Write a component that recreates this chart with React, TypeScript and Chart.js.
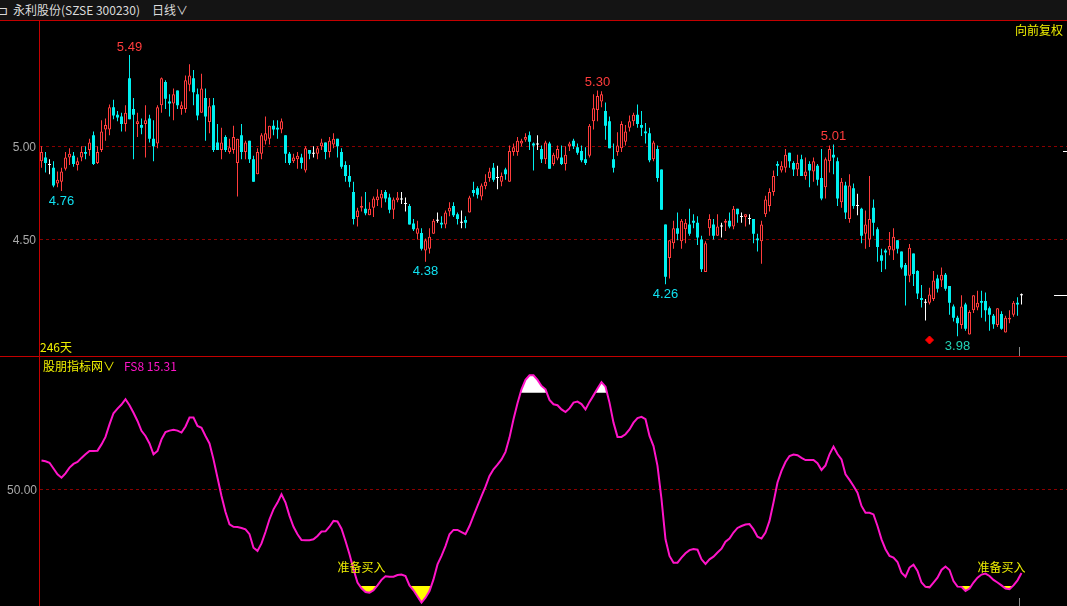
import React, { useEffect, useRef } from "react";
import { Chart, registerables } from "chart.js";

Chart.register(...registerables);

// ---------- data ----------
const openP = [
  4.92, 4.94, 4.90, 4.885, 4.80, 4.81, 4.88, 4.94, 4.95, 4.90,
  4.94, 4.97, 4.98, 5.06, 4.91, 4.98, 5.09, 5.09, 5.21, 5.17,
  5.16, 5.12, 5.365, 5.20, 5.12, 5.115, 5.12, 5.15, 5.04, 5.015,
  5.22, 5.345, 5.24, 5.23, 5.30, 5.20, 5.20, 5.33, 5.365, 5.28,
  5.18, 5.26, 5.13, 5.22, 5.02, 4.98, 5.05, 4.97, 4.98, 4.91,
  5.06, 4.97, 5.03, 4.93, 4.85, 4.96, 5.03, 5.04, 5.11, 5.10,
  5.09, 5.06, 4.96, 4.92, 4.93, 4.94, 4.87, 4.98, 4.96, 4.96,
  5.00, 5.02, 4.97, 5.01, 5.04, 4.97, 4.90, 4.84, 4.755, 4.62,
  4.67, 4.665, 4.63, 4.67, 4.71, 4.72, 4.755, 4.725, 4.66, 4.71,
  4.715, 4.69, 4.68, 4.585, 4.53, 4.535, 4.44, 4.45, 4.53, 4.60,
  4.59, 4.58, 4.65, 4.68, 4.635, 4.59, 4.605, 4.645, 4.765, 4.775,
  4.73, 4.785, 4.83, 4.885, 4.83, 4.81, 4.875, 4.81, 4.97, 4.97,
  5.015, 5.035, 5.06, 5.015, 5.01, 4.985, 4.93, 5.015, 4.905, 4.935,
  4.94, 4.905, 5.00, 5.03, 4.995, 4.975, 4.93, 4.95, 5.135, 5.195,
  5.24, 5.19, 5.135, 4.93, 4.97, 4.99, 5.025, 5.10, 5.135, 5.17,
  5.115, 5.08, 5.07, 4.93, 4.985, 4.875, 4.58, 4.40, 4.48, 4.56,
  4.49, 4.555, 4.58, 4.60, 4.59, 4.50, 4.325, 4.56, 4.58, 4.52,
  4.57, 4.59, 4.60, 4.57, 4.665, 4.62, 4.62, 4.61, 4.61, 4.505,
  4.49, 4.635, 4.68, 4.755, 4.905, 4.87, 4.885, 4.965, 4.91, 4.875,
  4.93, 4.84, 4.905, 4.865, 4.895, 4.83, 4.78, 4.92, 4.955, 4.92,
  4.70, 4.79, 4.61, 4.775, 4.68, 4.665, 4.53, 4.50, 4.67, 4.555,
  4.415, 4.44, 4.445, 4.44, 4.495, 4.435, 4.363, 4.305, 4.425, 4.33,
  4.186, 4.16, 4.16, 4.18, 4.29, 4.28, 4.31, 4.25, 4.14, 4.08,
  4.04, 4.15, 3.99, 4.12, 4.135, 4.17, 4.17, 4.13, 4.09, 4.04,
  4.10, 4.00, 4.07, 4.095, 4.16, 4.20,
];

const highP = [
  5.00, 4.97, 4.93, 4.92, 4.865, 4.885, 4.97, 4.99, 4.97, 4.94,
  5.00, 5.00, 5.04, 5.08, 5.00, 5.14, 5.15, 5.225, 5.25, 5.19,
  5.18, 5.22, 5.49, 5.26, 5.18, 5.15, 5.22, 5.17, 5.14, 5.22,
  5.37, 5.355, 5.28, 5.31, 5.30, 5.24, 5.38, 5.44, 5.41, 5.31,
  5.39, 5.31, 5.26, 5.26, 5.12, 5.10, 5.06, 5.04, 5.11, 5.04,
  5.12, 5.03, 5.03, 4.95, 4.99, 5.07, 5.16, 5.11, 5.14, 5.14,
  5.15, 5.06, 4.97, 4.96, 4.97, 4.96, 5.00, 4.98, 5.00, 5.00,
  5.04, 5.02, 5.05, 5.07, 5.04, 4.99, 4.92, 4.90, 4.81, 4.67,
  4.73, 4.755, 4.70, 4.73, 4.77, 4.765, 4.765, 4.745, 4.725, 4.755,
  4.755, 4.725, 4.69, 4.61, 4.60, 4.56, 4.505, 4.56, 4.61, 4.645,
  4.625, 4.655, 4.70, 4.70, 4.645, 4.655, 4.625, 4.735, 4.81, 4.785,
  4.80, 4.85, 4.885, 4.91, 4.895, 4.86, 4.885, 5.005, 5.015, 5.05,
  5.04, 5.07, 5.08, 5.02, 5.06, 5.005, 5.03, 5.025, 4.965, 5.005,
  5.005, 5.00, 5.025, 5.04, 5.015, 5.005, 4.995, 5.12, 5.28, 5.30,
  5.295, 5.235, 5.16, 5.015, 5.075, 5.135, 5.115, 5.165, 5.18, 5.225,
  5.19, 5.125, 5.10, 5.03, 5.005, 4.875, 4.58, 4.495, 4.60, 4.645,
  4.61, 4.61, 4.665, 4.635, 4.625, 4.52, 4.49, 4.635, 4.61, 4.635,
  4.59, 4.61, 4.645, 4.68, 4.665, 4.645, 4.635, 4.635, 4.61, 4.53,
  4.60, 4.735, 4.775, 4.87, 4.92, 4.92, 4.985, 4.965, 4.92, 4.955,
  4.955, 4.94, 4.92, 4.94, 4.905, 4.985, 4.94, 5.005, 5.01, 4.94,
  4.83, 4.81, 4.85, 4.80, 4.745, 4.67, 4.655, 4.84, 4.715, 4.565,
  4.45, 4.45, 4.54, 4.56, 4.495, 4.435, 4.373, 4.475, 4.425, 4.335,
  4.255, 4.18, 4.24, 4.33, 4.31, 4.35, 4.32, 4.25, 4.15, 4.09,
  4.20, 4.16, 4.12, 4.20, 4.225, 4.225, 4.215, 4.14, 4.10, 4.13,
  4.115, 4.09, 4.12, 4.17, 4.19, 4.21,
];

const lowP = [
  4.885, 4.86, 4.85, 4.78, 4.78, 4.76, 4.87, 4.90, 4.89, 4.87,
  4.92, 4.93, 4.95, 4.90, 4.905, 4.97, 5.03, 5.06, 5.145, 5.135,
  5.08, 5.08, 5.145, 4.93, 5.05, 5.065, 4.94, 5.02, 4.92, 4.99,
  5.18, 5.20, 5.16, 5.14, 5.20, 5.17, 5.18, 5.295, 5.22, 5.14,
  5.18, 5.03, 5.07, 4.97, 4.98, 4.93, 4.97, 4.96, 4.96, 4.73,
  4.93, 4.93, 4.91, 4.81, 4.85, 4.93, 5.01, 5.01, 5.06, 5.04,
  5.07, 4.91, 4.90, 4.91, 4.88, 4.88, 4.86, 4.93, 4.94, 4.93,
  4.98, 4.93, 4.94, 4.99, 4.94, 4.88, 4.81, 4.78, 4.58, 4.57,
  4.65, 4.63, 4.63, 4.62, 4.68, 4.67, 4.70, 4.64, 4.61, 4.70,
  4.69, 4.65, 4.58, 4.545, 4.50, 4.44, 4.38, 4.425, 4.53, 4.59,
  4.56, 4.56, 4.625, 4.62, 4.58, 4.56, 4.56, 4.645, 4.73, 4.72,
  4.71, 4.77, 4.81, 4.81, 4.77, 4.785, 4.82, 4.81, 4.95, 4.95,
  5.00, 5.025, 4.98, 4.87, 4.98, 4.91, 4.905, 4.88, 4.895, 4.925,
  4.90, 4.87, 4.975, 4.985, 4.955, 4.915, 4.90, 4.94, 5.09, 5.135,
  5.21, 5.035, 4.99, 4.86, 4.95, 4.97, 5.005, 5.08, 5.11, 5.10,
  5.055, 5.015, 4.915, 4.92, 4.81, 4.66, 4.26, 4.29, 4.45, 4.495,
  4.45, 4.48, 4.52, 4.56, 4.47, 4.325, 4.325, 4.52, 4.50, 4.52,
  4.51, 4.545, 4.56, 4.555, 4.59, 4.59, 4.57, 4.58, 4.48, 4.435,
  4.37, 4.62, 4.65, 4.735, 4.84, 4.86, 4.86, 4.885, 4.84, 4.84,
  4.84, 4.82, 4.78, 4.81, 4.79, 4.71, 4.72, 4.86, 4.85, 4.68,
  4.67, 4.61, 4.59, 4.665, 4.63, 4.48, 4.45, 4.46, 4.52, 4.38,
  4.325, 4.34, 4.415, 4.39, 4.425, 4.34, 4.145, 4.27, 4.25, 4.18,
  4.135, 4.065, 4.15, 4.17, 4.215, 4.245, 4.225, 4.095, 4.06, 3.98,
  4.02, 4.01, 3.99, 4.105, 4.12, 4.08, 4.06, 4.01, 4.02, 4.03,
  4.015, 4.00, 4.05, 4.085, 4.09, 4.15,
];

const closeP = [
  4.97, 4.91, 4.90, 4.79, 4.82, 4.865, 4.94, 4.96, 4.905, 4.92,
  4.97, 4.96, 5.02, 4.905, 4.97, 5.08, 5.115, 5.21, 5.165, 5.155,
  5.12, 5.18, 5.145, 5.17, 5.135, 5.10, 5.14, 5.04, 5.00, 5.21,
  5.365, 5.255, 5.23, 5.28, 5.22, 5.22, 5.355, 5.38, 5.29, 5.165,
  5.31, 5.16, 5.215, 4.98, 4.98, 5.02, 4.98, 4.995, 5.05, 5.04,
  4.97, 5.02, 4.93, 4.81, 4.97, 5.06, 5.07, 5.11, 5.09, 5.09,
  5.135, 4.96, 4.91, 4.94, 4.95, 4.91, 4.99, 4.96, 4.96, 4.99,
  5.02, 4.97, 5.03, 5.04, 5.00, 4.89, 4.84, 4.81, 4.61, 4.655,
  4.68, 4.64, 4.665, 4.72, 4.73, 4.745, 4.72, 4.66, 4.715, 4.725,
  4.715, 4.69, 4.58, 4.555, 4.56, 4.45, 4.495, 4.515, 4.60, 4.60,
  4.58, 4.645, 4.67, 4.63, 4.61, 4.59, 4.59, 4.725, 4.75, 4.74,
  4.79, 4.81, 4.865, 4.82, 4.83, 4.84, 4.85, 4.975, 4.995, 5.03,
  5.03, 5.05, 5.025, 5.005, 5.01, 4.93, 5.02, 4.88, 4.955, 4.985,
  4.905, 4.955, 5.015, 5.00, 4.965, 4.925, 4.91, 5.11, 5.205, 5.27,
  5.28, 5.11, 4.99, 4.885, 5.005, 5.12, 5.08, 5.135, 5.17, 5.12,
  5.10, 5.07, 4.925, 5.02, 4.83, 4.66, 4.30, 4.495, 4.56, 4.53,
  4.60, 4.59, 4.53, 4.59, 4.51, 4.34, 4.48, 4.61, 4.52, 4.57,
  4.57, 4.60, 4.57, 4.665, 4.635, 4.62, 4.635, 4.61, 4.53, 4.495,
  4.58, 4.715, 4.755, 4.84, 4.895, 4.895, 4.955, 4.92, 4.875, 4.91,
  4.84, 4.865, 4.87, 4.92, 4.82, 4.72, 4.93, 4.985, 4.94, 4.72,
  4.81, 4.645, 4.79, 4.68, 4.68, 4.52, 4.58, 4.61, 4.59, 4.46,
  4.385, 4.43, 4.465, 4.515, 4.45, 4.35, 4.305, 4.455, 4.315, 4.21,
  4.175, 4.16, 4.205, 4.28, 4.235, 4.31, 4.235, 4.16, 4.08, 4.05,
  4.14, 4.02, 4.11, 4.20, 4.16, 4.16, 4.12, 4.095, 4.045, 4.13,
  4.02, 4.08, 4.08, 4.16, 4.15, 4.20,
];

// FS8 indicator (股朋指标网)
const fs8 = [
  61.9, 61.6, 61.0, 58.6, 56.2, 54.8, 56.6, 59.0, 60.5, 61.3,
  63.0, 64.5, 65.9, 65.9, 66.0, 68.6, 71.7, 76.9, 81.5, 83.4,
  85.1, 87.3, 84.8, 81.7, 78.3, 74.2, 72.1, 69.0, 64.5, 65.9,
  70.7, 73.7, 74.3, 74.6, 74.3, 73.5, 76.0, 79.7, 79.7, 76.2,
  75.5, 72.1, 69.0, 62.4, 54.8, 47.2, 40.6, 35.5, 34.5, 34.4,
  34.0, 33.4, 31.4, 25.8, 24.5, 27.6, 32.3, 37.6, 41.7, 44.5,
  47.9, 44.5, 39.0, 34.5, 31.4, 29.0, 28.9, 28.9, 29.3, 30.7,
  32.5, 32.6, 34.5, 36.9, 36.7, 33.7, 28.6, 23.1, 16.9, 11.4,
  9.0, 7.5, 7.2, 8.2, 10.2, 12.5, 14.0, 13.8, 13.8, 14.5,
  14.7, 14.1, 10.2, 8.2, 5.6, 3.1, 5.1, 7.9, 12.7, 18.9,
  22.4, 26.5, 31.4, 33.2, 33.2, 32.3, 31.4, 34.8, 39.0, 43.1,
  47.2, 51.1, 55.5, 58.3, 60.2, 62.4, 65.5, 71.4, 79.0, 85.6,
  91.4, 95.3, 97.2, 97.2, 95.3, 92.8, 91.4, 87.0, 85.2, 84.8,
  83.1, 82.0, 83.5, 85.9, 86.3, 85.3, 83.1, 86.2, 88.9, 91.7,
  94.4, 92.5, 85.9, 77.6, 71.7, 71.7, 72.8, 74.8, 77.6, 79.5,
  80.0, 79.0, 72.1, 67.9, 59.7, 45.9, 29.3, 22.4, 19.6, 19.6,
  21.7, 23.5, 24.8, 25.3, 25.0, 21.0, 19.1, 21.0, 22.1, 23.8,
  25.4, 28.3, 29.6, 32.1, 34.0, 34.8, 35.4, 35.6, 33.4, 30.4,
  29.6, 32.1, 36.9, 44.5, 52.8, 57.6, 61.3, 63.8, 64.4, 64.1,
  63.0, 62.1, 62.1, 62.1, 60.8, 58.0, 59.9, 64.5, 67.7, 64.6,
  62.4, 56.2, 53.9, 51.4, 48.6, 43.1, 40.3, 40.3, 39.6, 34.8,
  29.3, 25.2, 22.4, 21.7, 19.9, 15.5, 13.8, 17.6, 18.8, 16.2,
  11.4, 9.6, 9.4, 11.4, 13.4, 16.6, 18.0, 16.6, 12.0, 9.7,
  9.6, 7.9, 8.9, 11.4, 13.4, 14.7, 15.1, 14.1, 12.5, 11.4,
  10.2, 8.9, 8.6, 10.2, 12.3, 15.31,
];

const priceTicks = [5.0, 4.5];
const fsTicks = [50];
const fsLow = 10;
const fsHigh = 90;
const highMarkIdx = [22, 139, 198];
const lowMarkIdx = [5, 96, 156, 229];
const diamondIdx = [222];
const diamondPrice = [3.96];
const buySignalIdx = [80, 240];
const buySignalLevel = [17.6, 17.6];
const buySignalText = ["准备买入", "准备买入"];
const rightMarkPrices = [4.2, 4.975];
const dayCount = "246天";

// ---------- styles ----------
const RED = "#ff3c3c";
const CYAN = "#00f0f0";
const WHITE = "#ffffff";
const GRID = "#8a0000";
const BORDER = "#c40000";
const AXIS_TXT = "#a8a8a8";
const MAGENTA = "#ff14c8";
const YELLOW = "#f0f000";
const CJK = '"Noto Sans CJK SC", "Noto Sans", sans-serif';
const NUMF = '"Liberation Sans", Arial, sans-serif';

const N = openP.length;
const labels = openP.map((_, i) => String(i + 1));
const dir = openP.map((o, i) => (closeP[i] > o ? 1 : closeP[i] < o ? -1 : 0));
const bodyFill = dir.map((d) => (d === 1 ? "#000000" : d === -1 ? CYAN : WHITE));
const candleCol = dir.map((d) => (d === 1 ? RED : d === -1 ? CYAN : WHITE));
const bodyBorderW = dir.map((d) => (d === 1 ? 1 : 0));

const topPlugin = {
  id: "topDecor",
  beforeDatasetsDraw(chart: any) {
    const { ctx } = chart;
    const y = chart.scales.y;
    ctx.save();
    ctx.strokeStyle = GRID;
    ctx.lineWidth = 1;
    ctx.setLineDash([3, 3]);
    priceTicks.forEach((v) => {
      const py = Math.round(y.getPixelForValue(v)) + 0.5;
      ctx.beginPath();
      ctx.moveTo(40, py);
      ctx.lineTo(chart.width, py);
      ctx.stroke();
    });
    ctx.setLineDash([]);
    ctx.fillStyle = AXIS_TXT;
    ctx.font = "12px " + NUMF;
    ctx.textAlign = "right";
    ctx.textBaseline = "middle";
    priceTicks.forEach((v) => ctx.fillText(v.toFixed(2), 36, y.getPixelForValue(v) + 1));
    ctx.restore();
  },
  afterDatasetsDraw(chart: any) {
    const { ctx } = chart;
    const x = chart.scales.x;
    const y = chart.scales.y;
    ctx.save();
    ctx.font = "13px " + NUMF;
    ctx.textAlign = "center";
    ctx.textBaseline = "middle";
    highMarkIdx.forEach((i) => {
      ctx.fillStyle = RED;
      ctx.fillText(highP[i].toFixed(2), x.getPixelForValue(i), y.getPixelForValue(highP[i]) - 8);
    });
    lowMarkIdx.forEach((i, k) => {
      ctx.fillStyle = k === lowMarkIdx.length - 1 ? "#22d2b4" : "#10e0f0";
      ctx.fillText(lowP[i].toFixed(2), x.getPixelForValue(i), y.getPixelForValue(lowP[i]) + 10);
    });
    ctx.strokeStyle = WHITE;
    ctx.lineWidth = 1;
    rightMarkPrices.forEach((p, k) => {
      const py = Math.round(y.getPixelForValue(p)) + 0.5;
      ctx.beginPath();
      ctx.moveTo(k === 0 ? 1054 : 1063, py);
      ctx.lineTo(chart.width, py);
      ctx.stroke();
    });
    const tx = Math.round(x.getPixelForValue(N - 1)) - 2.5;
    ctx.strokeStyle = "#8a8a8a";
    ctx.beginPath();
    ctx.moveTo(tx, chart.height - 9);
    ctx.lineTo(tx, chart.height);
    ctx.stroke();
    ctx.restore();
  },
};

function drawBand(chart: any, level: number, above: boolean, color: string) {
  const { ctx, chartArea: a } = chart;
  const x = chart.scales.x;
  const y = chart.scales.y;
  const ly = y.getPixelForValue(level);
  ctx.save();
  ctx.beginPath();
  if (above) ctx.rect(a.left, a.top, a.right - a.left, ly - a.top);
  else ctx.rect(a.left, ly, a.right - a.left, a.bottom - ly);
  ctx.clip();
  ctx.beginPath();
  fs8.forEach((v, i) => {
    const px = x.getPixelForValue(i);
    const py = y.getPixelForValue(v);
    if (i === 0) ctx.moveTo(px, py);
    else ctx.lineTo(px, py);
  });
  const closeY = above ? a.bottom : a.top;
  ctx.lineTo(x.getPixelForValue(N - 1), closeY);
  ctx.lineTo(x.getPixelForValue(0), closeY);
  ctx.closePath();
  ctx.fillStyle = color;
  ctx.fill();
  ctx.restore();
}

const bottomPlugin = {
  id: "bottomDecor",
  beforeDatasetsDraw(chart: any) {
    const { ctx } = chart;
    const y = chart.scales.y;
    ctx.save();
    ctx.strokeStyle = GRID;
    ctx.lineWidth = 1;
    ctx.setLineDash([3, 3]);
    fsTicks.forEach((v) => {
      const py = Math.round(y.getPixelForValue(v)) + 0.5;
      ctx.beginPath();
      ctx.moveTo(40, py);
      ctx.lineTo(chart.width, py);
      ctx.stroke();
    });
    ctx.setLineDash([]);
    ctx.fillStyle = AXIS_TXT;
    ctx.font = "12px " + NUMF;
    ctx.textAlign = "right";
    ctx.textBaseline = "middle";
    fsTicks.forEach((v) => ctx.fillText(v.toFixed(2), 37, y.getPixelForValue(v) + 1));
    ctx.restore();
    drawBand(chart, fsHigh, true, "#ffffff");
    drawBand(chart, fsLow, false, "#ffff00");
  },
  afterDatasetsDraw(chart: any) {
    const { ctx } = chart;
    const x = chart.scales.x;
    const y = chart.scales.y;
    ctx.save();
    ctx.fillStyle = YELLOW;
    ctx.font = "12px " + CJK;
    ctx.textAlign = "center";
    ctx.textBaseline = "middle";
    buySignalIdx.forEach((i, k) => {
      ctx.fillText(buySignalText[k], x.getPixelForValue(i), y.getPixelForValue(buySignalLevel[k]));
    });
    const tx = Math.round(x.getPixelForValue(N - 1)) - 2.5;
    ctx.strokeStyle = "#8a8a8a";
    ctx.lineWidth = 1;
    ctx.beginPath();
    ctx.moveTo(tx, chart.height - 8);
    ctx.lineTo(tx, chart.height);
    ctx.stroke();
    ctx.restore();
  },
};

export default function App() {
  const topRef = useRef<HTMLCanvasElement | null>(null);
  const botRef = useRef<HTMLCanvasElement | null>(null);

  useEffect(() => {
    document.body.style.margin = "0";
    document.body.style.background = "#000";
    const layoutPad = { left: 39.5, right: 43.5, top: 0, bottom: 0 };

    const top = new Chart(topRef.current as HTMLCanvasElement, {
      type: "bar",
      data: {
        labels,
        datasets: [
          {
            type: "line",
            label: "signal",
            data: labels.map((_, i) => {
              const k = diamondIdx.indexOf(i);
              return k >= 0 ? diamondPrice[k] : null;
            }),
            showLine: false,
            pointStyle: "rectRot",
            pointRadius: 4,
            pointBorderWidth: 1,
            pointBackgroundColor: "#ff0000",
            pointBorderColor: "#ff0000",
            order: 0,
          } as any,
          {
            type: "bar",
            label: "body",
            data: openP.map((o, i) => [o, closeP[i]]),
            backgroundColor: bodyFill,
            borderColor: candleCol,
            borderWidth: bodyBorderW,
            borderSkipped: false,
            barThickness: 3,
            minBarLength: 1,
            grouped: false,
            inflateAmount: 0,
            order: 1,
          } as any,
          {
            type: "bar",
            label: "wick",
            data: lowP.map((l, i) => [l, highP[i]]),
            backgroundColor: candleCol,
            borderWidth: 0,
            barThickness: 1,
            grouped: false,
            inflateAmount: 0,
            order: 2,
          } as any,
        ],
      },
      options: {
        animation: false,
        responsive: false,
        devicePixelRatio: 1,
        layout: { padding: layoutPad },
        scales: {
          x: { type: "category", display: false, offset: true, grid: { display: false } },
          y: { type: "linear", display: false, min: 3.901, max: 5.646 },
        },
        plugins: { legend: { display: false }, tooltip: { enabled: false } },
      } as any,
      plugins: [topPlugin],
    });

    const bot = new Chart(botRef.current as HTMLCanvasElement, {
      type: "line",
      data: {
        labels,
        datasets: [
          {
            label: "FS8",
            data: fs8,
            borderColor: MAGENTA,
            borderWidth: 2,
            pointRadius: 0,
            tension: 0,
            fill: false,
          },
        ] as any,
      },
      options: {
        animation: false,
        responsive: false,
        devicePixelRatio: 1,
        layout: { padding: layoutPad },
        scales: {
          x: { type: "category", display: false, offset: true, grid: { display: false } },
          y: { type: "linear", display: false, min: 1.68, max: 104.78 },
        },
        plugins: { legend: { display: false }, tooltip: { enabled: false } },
      } as any,
      plugins: [bottomPlugin],
    });

    return () => {
      top.destroy();
      bot.destroy();
    };
  }, []);

  const txt = (extra: React.CSSProperties): React.CSSProperties => ({
    position: "absolute",
    fontFamily: CJK,
    fontSize: 12,
    whiteSpace: "nowrap",
    ...extra,
  });

  return (
    <div
      style={{
        position: "fixed",
        left: 0,
        top: 0,
        width: 1067,
        height: 606,
        background: "#000",
        overflow: "hidden",
      }}
    >
      <div style={{ position: "absolute", left: 0, top: 0, width: 1067, height: 20, background: "#141414" }} />
      <span style={txt({ left: -2, top: 0, lineHeight: "20px", color: "#d8d8d8" })}>⊐</span>
      <span style={txt({ left: 13, top: 0, lineHeight: "20px", color: "#dcdcdc" })}>永利股份(SZSE 300230)</span>
      <span style={txt({ left: 152, top: 0, lineHeight: "20px", color: "#dcdcdc" })}>日线∨</span>
      <div style={{ position: "absolute", left: 0, top: 20, width: 1067, height: 1, background: BORDER }} />
      <canvas ref={topRef} width={1067} height={335} style={{ position: "absolute", left: 0, top: 21, display: "block" }} />
      <div style={{ position: "absolute", left: 0, top: 356, width: 1067, height: 1, background: BORDER }} />
      <canvas ref={botRef} width={1067} height={249} style={{ position: "absolute", left: 0, top: 357, display: "block" }} />
      <div style={{ position: "absolute", left: 39, top: 20, width: 1, height: 586, background: BORDER }} />
      <span style={txt({ left: 1015, top: 22, lineHeight: "15px", color: YELLOW })}>向前复权</span>
      <span style={txt({ left: 40, top: 340, lineHeight: "14px", color: YELLOW })}>{dayCount}</span>
      <span style={txt({ left: 43, top: 359, lineHeight: "14px", color: YELLOW })}>股朋指标网∨</span>
      <span style={txt({ left: 124, top: 359, lineHeight: "14px", color: MAGENTA })}>FS8 15.31</span>
    </div>
  );
}
